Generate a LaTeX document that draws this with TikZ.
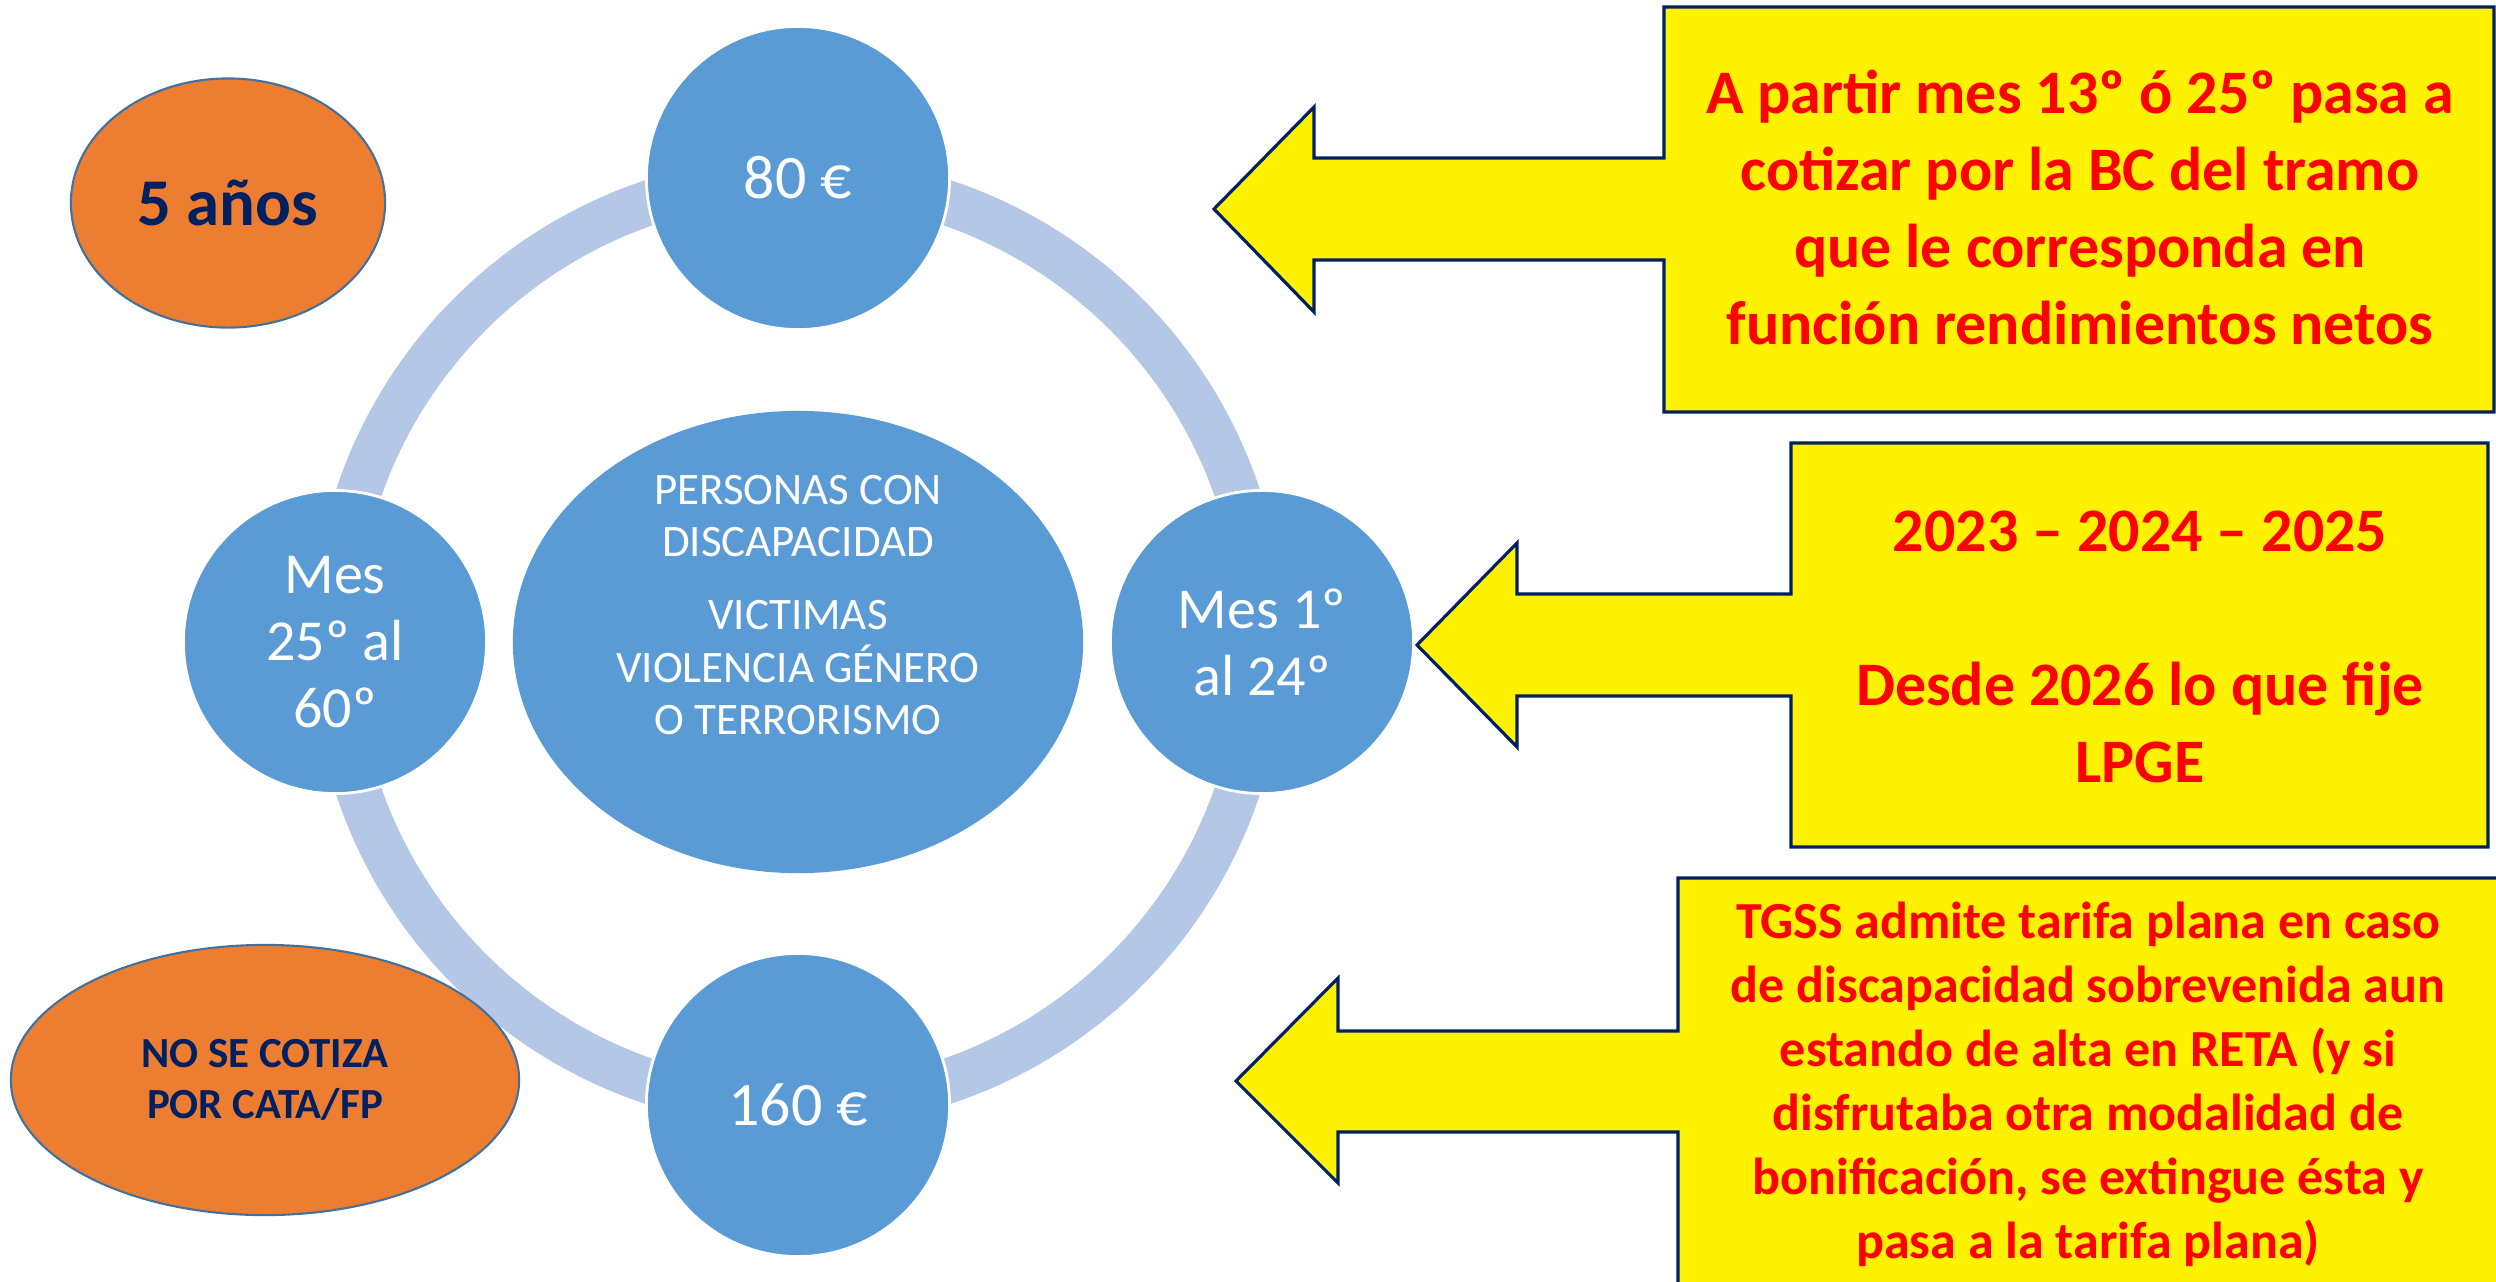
\documentclass[tikz,border=0pt]{standalone}
\usepackage{fontspec}
\setmainfont{Carlito}
\usetikzlibrary{shapes.geometric}

\definecolor{ringblue}{HTML}{B4C7E7}
\definecolor{stageblue}{HTML}{5B9BD5}
\definecolor{notaorange}{HTML}{ED7D31}
\definecolor{edgeblue}{HTML}{41719C}
\definecolor{navy}{HTML}{002060}

\begin{document}
\begin{tikzpicture}[x=0.01cm, y=-0.01cm,
    stage/.style={circle, fill=stageblue, draw=white, line width=0.8pt, minimum size=3.03cm, inner sep=0pt, align=center, text=white},
    nota/.style={ellipse, fill=notaorange, draw=edgeblue, line width=0.6pt, inner sep=0pt, align=center, text=navy},
    callout/.style={fill=yellow, draw=navy, line width=0.9pt, line join=miter},
    callouttext/.style={text=red, align=center}]

    \useasboundingbox (0,0) rectangle (2496,1281);
    \clip (0,0) rectangle (2496,1281);

    % Ring
    \draw[ringblue, line width=0.45cm] (798,642) circle (4.635cm);

    % Centre
    \node[ellipse, fill=stageblue, minimum width=5.7cm, minimum height=4.62cm, inner sep=0pt] (hub) at (798,642) {};
    \node[text=white, align=center, font=\fontsize{12.8}{14.8}\selectfont] (hubtext) at (798,605)
        {PERSONAS CON\\DISCAPACIDAD\\[0.21cm]VICTIMAS\\VIOLENCIA GÉNERO\\O TERRORISMO};

    % Stages
    \node[stage, font=\fontsize{17.6}{21}\selectfont] (cuota80) at (798,178) {80 €};
    \node[stage, font=\fontsize{16.5}{19.06}\selectfont] (mesuno) at (1262,642) {Mes 1º\\al 24º};
    \node[stage, font=\fontsize{17.6}{21}\selectfont] (cuota160) at (798,1105) {160 €};
    \node[stage, font=\fontsize{16.5}{19.06}\selectfont] (mesveinte) at (335,642) {Mes\\25º al\\60º};

    % Notes
    \node[nota, minimum width=3.14cm, minimum height=2.49cm, font=\fontsize{19}{23}\selectfont\bfseries] (anos) at (228,203) {5 años};
    \node[nota, minimum width=5.08cm, minimum height=2.7cm, font=\fontsize{12.2}{14.7}\selectfont\bfseries] (nocata) at (265,1080) {NO SE COTIZA\\POR CATA/FP};

    % Callouts
    \draw[callout] (2494,7) -- (1664,7) -- (1664,158) -- (1314,158) -- (1314,107) -- (1214,209)
        -- (1314,312) -- (1314,260) -- (1664,260) -- (1664,412) -- (2494,412) -- cycle;
    \node[callouttext, font=\fontsize{17.6}{21.9}\selectfont\bfseries] (tramo) at (2080,207)
        {A partir mes 13º ó 25º pasa a\\cotizar por la BC del tramo\\que le corresponda en\\función rendimientos netos};

    \draw[callout] (2488,443) -- (1791,443) -- (1791,594) -- (1517,594) -- (1517,543) -- (1417,645)
        -- (1517,747) -- (1517,696) -- (1791,696) -- (1791,847) -- (2488,847) -- cycle;
    \node[callouttext, font=\fontsize{17.6}{21.9}\selectfont\bfseries] (periodo) at (2140,647)
        {2023 – 2024 – 2025\\[0.77cm]Desde 2026 lo que fije\\LPGE};

    \draw[callout] (2510,878) -- (1678,878) -- (1678,1031) -- (1338,1031) -- (1338,978) -- (1236,1081)
        -- (1338,1183) -- (1338,1132) -- (1678,1132) -- (1678,1300) -- (2510,1300) -- cycle;
    \node[callouttext, font=\fontsize{14.8}{18.2}\selectfont\bfseries] (tgss) at (2088,1084)
        {TGSS admite tarifa plana en caso\\de discapacidad sobrevenida aun\\estando de alta en RETA (y si\\disfrutaba otra modalidad de\\bonificación, se extingue ésta y\\pasa a la tarifa plana)};
\end{tikzpicture}
\end{document}
